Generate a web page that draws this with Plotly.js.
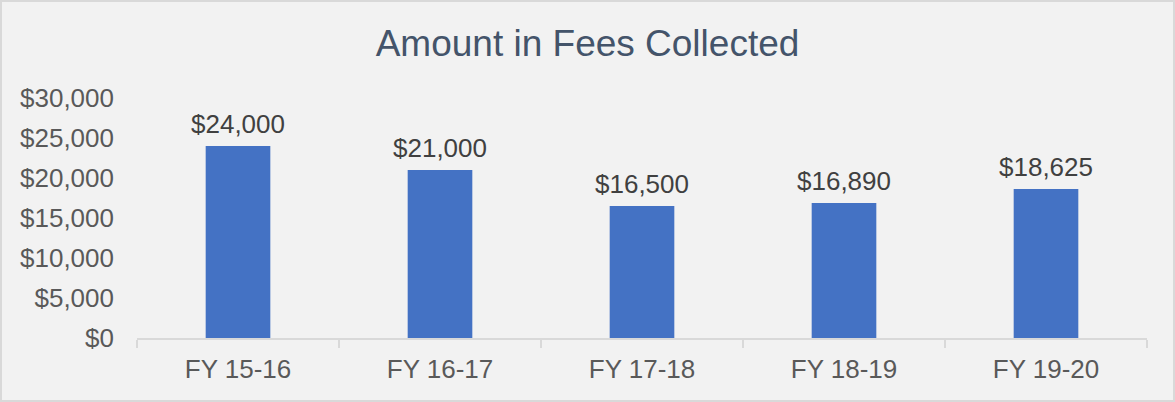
<!DOCTYPE html>
<html>
<head>
<meta charset="utf-8">
<script src="https://cdn.plot.ly/plotly-3.0.1.min.js"></script>
<style>
  html, body { margin: 0; padding: 0; background: #F2F2F2; }
  #wrap { position: relative; width: 1175px; height: 402px; }
  #chart { width: 1175px; height: 402px; }
  #frame { position: absolute; left: 0; top: 0; width: 1175px; height: 402px; box-sizing: border-box; border: 2px solid #D9D9D9; pointer-events: none; }
</style>
</head>
<body>
<div id="wrap">
  <div id="chart"></div>
  <div id="frame"></div>
</div>
<script>
const categories = ["FY 15-16", "FY 16-17", "FY 17-18", "FY 18-19", "FY 19-20"];
const fees = [24000, 21000, 16500, 16890, 18625];
const yTickVals = [0, 5000, 10000, 15000, 20000, 25000, 30000];
const yTickText = ["$0", "$5,000", "$10,000", "$15,000", "$20,000", "$25,000", "$30,000"];

const fmt = v => "$" + v.toLocaleString("en-US");

const trace = {
  type: "bar",
  x: categories,
  y: fees,
  marker: { color: "#4472C4", line: { width: 0 } },
  hoverinfo: "none"
};

const annotations = categories.map((c, i) => ({
  x: c, y: fees[i], xref: "x", yref: "y",
  text: fmt(fees[i]),
  showarrow: false,
  yanchor: "bottom",
  yshift: 5,
  font: { family: "Liberation Sans, Arial, sans-serif", size: 26, color: "#404040" }
}));

const layout = {
  width: 1175, height: 402,
  paper_bgcolor: "#F2F2F2",
  plot_bgcolor: "#F2F2F2",
  margin: { l: 137, r: 28, t: 98, b: 64 },
  bargap: 0.68,
  showlegend: false,
  title: {
    text: "Amount in Fees Collected",
    x: 0.5, xref: "container", xanchor: "center",
    y: 1 - 43 / 402, yref: "container", yanchor: "middle",
    font: { family: "Liberation Sans, Arial, sans-serif", size: 37, color: "#44546A" }
  },
  xaxis: {
    type: "category",
    showline: true, linecolor: "#D9D9D9", linewidth: 2,
    ticks: "outside", tickson: "boundaries", ticklen: 8, tickcolor: "#D9D9D9", tickwidth: 2,
    showgrid: false, zeroline: false,
    ticklabelstandoff: 7,
    tickfont: { family: "Liberation Sans, Arial, sans-serif", size: 26, color: "#595959" }
  },
  yaxis: {
    range: [0, 30000],
    tickvals: yTickVals, ticktext: yTickText,
    showgrid: false, zeroline: false, showline: false,
    ticks: "", ticklabelstandoff: 22,
    tickfont: { family: "Liberation Sans, Arial, sans-serif", size: 26, color: "#595959" }
  },
  annotations: annotations
};

Plotly.newPlot("chart", [trace], layout, { displayModeBar: false, staticPlot: true });
</script>
</body>
</html>
